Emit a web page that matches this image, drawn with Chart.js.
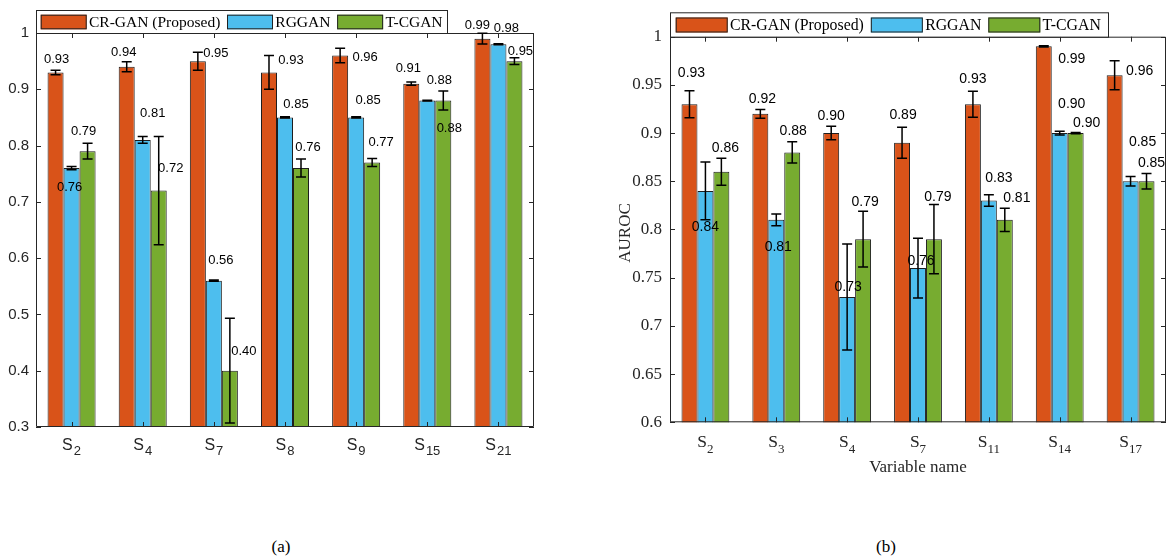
<!DOCTYPE html>
<html>
<head>
<meta charset="utf-8">
<script src="https://cdn.jsdelivr.net/npm/chart.js@4.4.0/dist/chart.umd.min.js"></script>
<style>
  html, body { margin: 0; padding: 0; background: #fff; }
  #wrap { position: relative; width: 1167px; height: 559px; overflow: hidden; }
  canvas { position: absolute; top: 0; }
  #ca { left: 0; }
  #cb { left: 580px; }
  .cap { position: absolute; font-family: "Liberation Serif", serif; font-size: 17px; color: #000;
         transform: translate(-50%, -50%); }
</style>
</head>
<body>
<div id="wrap">
  <canvas id="ca" width="560" height="480"></canvas>
  <canvas id="cb" width="587" height="480"></canvas>
  <div class="cap" style="left:281px; top:547px;">(a)</div>
  <div class="cap" style="left:886px; top:547px;">(b)</div>
</div>
<script>
// ---- data ----
const seriesNames = ['CR-GAN (Proposed)', 'RGGAN', 'T-CGAN'];
const seriesColors = ['#D95319', '#4DBEEE', '#77AC30'];

// panel (a)
const categoriesA = ['S_2', 'S_4', 'S_7', 'S_8', 'S_9', 'S_15', 'S_21'];
const crganA  = [0.93, 0.94, 0.95, 0.93, 0.96, 0.91, 0.99];
const rgganA  = [0.76, 0.81, 0.56, 0.85, 0.85, 0.88, 0.98];
const tcganA  = [0.79, 0.72, 0.40, 0.76, 0.77, 0.88, 0.95];
const crganErrA = [0.004, 0.009, 0.016, 0.030, 0.013, 0.003, 0.0095];
const rgganErrA = [0.003, 0.006, 0.001, 0.001, 0.001, 0.0006, 0.001];
const tcganErrA = [0.014, 0.096, 0.093, 0.016, 0.007, 0.017, 0.006];
const yTicksA = { min: 0.3, max: 1, step: 0.1 };

// panel (b)
const categoriesB = ['S_2', 'S_3', 'S_4', 'S_7', 'S_11', 'S_14', 'S_17'];
const crganB  = [0.93, 0.92, 0.90, 0.89, 0.93, 0.99, 0.96];
const rgganB  = [0.84, 0.81, 0.73, 0.76, 0.83, 0.90, 0.85];
const tcganB  = [0.86, 0.88, 0.79, 0.79, 0.81, 0.90, 0.85];
const crganErrB = [0.014, 0.0045, 0.007, 0.016, 0.0135, 0.0006, 0.015];
const rgganErrB = [0.030, 0.006, 0.055, 0.031, 0.006, 0.002, 0.005];
const tcganErrB = [0.014, 0.011, 0.029, 0.036, 0.012, 0.0006, 0.008];
const yTicksB = { min: 0.6, max: 1, step: 0.05 };

// ---- label placement (pixel nudges from each bar's top centre) ----
const nudgeA = [
  [[1,-13],[-3,-14],[18,-8],[22,-12],[25,2],[-3,-15],[-5,-13]],
  [[-2,19],[10,-27],[7,-20],[11,-13],[12,-17],[12,-20],[8,-16]],
  [[-4,-19.5],[12,-22],[14,-19],[7,-21],[9,-20],[6,28],[6,-10]]
];
const nudgeB = [
  [[2,-31],[2,-14.5],[0,-17],[1,-28],[0,-25],[28,13],[25,-4]],
  [[0,36],[2,27],[1,-10],[3,-7],[10,-22],[12,-29],[12,-39]],
  [[4,-24],[1,-21],[2,-37],[4,-42],[12,-22],[11,-10],[5,-18]]
];

const AXIS = '#262626';

function decorPlugin(cfg) {
  return {
    id: 'decor',
    afterDatasetsDraw(chart) {
      const ctx = chart.ctx;
      const a = chart.chartArea;
      const xs = chart.scales.x, ys = chart.scales.y;
      ctx.save();

      // axes box with inward ticks
      ctx.strokeStyle = AXIS;
      ctx.lineWidth = 1;
      ctx.beginPath();
      ctx.rect(a.left + 0.5, a.top + 0.5, a.right - a.left - 1, a.bottom - a.top - 1);
      ys.ticks.forEach(t => {
        const y = Math.round(ys.getPixelForValue(t.value)) + 0.5;
        ctx.moveTo(a.left, y); ctx.lineTo(a.left + 5, y);
        ctx.moveTo(a.right, y); ctx.lineTo(a.right - 5, y);
      });
      chart.data.labels.forEach((_, i) => {
        const x = Math.round(xs.getPixelForTick(i)) + 0.5;
        ctx.moveTo(x, a.bottom); ctx.lineTo(x, a.bottom - 5);
        ctx.moveTo(x, a.top); ctx.lineTo(x, a.top + 5);
      });
      ctx.stroke();

      // error bars
      ctx.strokeStyle = '#000';
      ctx.lineWidth = 1.5;
      chart.data.datasets.forEach((ds, di) => {
        const meta = chart.getDatasetMeta(di);
        ds.data.forEach((v, j) => {
          const el = meta.data[j];
          const e = cfg.errors[di][j];
          const yt = ys.getPixelForValue(v + e);
          const yb = ys.getPixelForValue(v - e);
          const x = el.x;
          ctx.beginPath();
          ctx.moveTo(x, yt); ctx.lineTo(x, yb);
          ctx.moveTo(x - 5, yt); ctx.lineTo(x + 5, yt);
          ctx.moveTo(x - 5, yb); ctx.lineTo(x + 5, yb);
          ctx.stroke();
        });
      });

      // value labels
      ctx.fillStyle = '#000';
      ctx.font = cfg.valueFont;
      ctx.textAlign = 'center';
      ctx.textBaseline = 'middle';
      chart.data.datasets.forEach((ds, di) => {
        const meta = chart.getDatasetMeta(di);
        ds.data.forEach((v, j) => {
          const el = meta.data[j];
          const [dx, dy] = cfg.nudge[di][j];
          ctx.fillText(v.toFixed(2), el.x + dx, ys.getPixelForValue(v) + dy);
        });
      });

      // category labels with subscripts
      ctx.fillStyle = cfg.tickColor;
      ctx.textAlign = 'left';
      ctx.textBaseline = 'alphabetic';
      chart.data.labels.forEach((lab, i) => {
        const [m, s] = lab.split('_');
        ctx.font = cfg.catFont; const wm = ctx.measureText(m).width;
        ctx.font = cfg.subFont; const wsub = ctx.measureText(s).width;
        const x0 = xs.getPixelForTick(i) - (wm + cfg.subGap + wsub) / 2;
        ctx.font = cfg.catFont; ctx.fillText(m, x0, cfg.catBase);
        ctx.font = cfg.subFont; ctx.fillText(s, x0 + wm + cfg.subGap, cfg.catBase + cfg.subDrop);
      });

      // axis titles
      if (cfg.xTitle) {
        ctx.fillStyle = AXIS;
        ctx.font = cfg.titleFont;
        ctx.textAlign = 'center';
        ctx.fillText(cfg.xTitle.text, cfg.xTitle.x, cfg.xTitle.y);
      }
      if (cfg.yTitle) {
        ctx.save();
        ctx.fillStyle = AXIS;
        ctx.font = cfg.titleFont;
        ctx.textAlign = 'center';
        ctx.textBaseline = 'alphabetic';
        ctx.translate(cfg.yTitle.x, cfg.yTitle.y);
        ctx.rotate(-Math.PI / 2);
        ctx.fillText(cfg.yTitle.text, 0, 0);
        ctx.restore();
      }

      // legend
      const L = cfg.legend;
      ctx.fillStyle = '#fff';
      ctx.fillRect(L.x, L.y, L.w, L.h);
      ctx.strokeStyle = AXIS;
      ctx.lineWidth = 1;
      ctx.strokeRect(L.x + 0.5, L.y + 0.5, L.w, L.h);
      ctx.font = L.font;
      ctx.textAlign = 'left';
      ctx.textBaseline = 'middle';
      let x = L.x + L.pad;
      const cy = L.y + L.h / 2 + 0.5;
      chart.data.datasets.forEach(ds => {
        ctx.fillStyle = ds.backgroundColor;
        ctx.fillRect(x, cy - L.swH / 2, L.swW, L.swH);
        ctx.strokeStyle = '#222';
        ctx.strokeRect(x + 0.5, cy - L.swH / 2 + 0.5, L.swW - 1, L.swH - 1);
        x += L.swW + L.gapA;
        ctx.fillStyle = '#000';
        ctx.fillText(ds.label, x, cy + 1);
        x += ctx.measureText(ds.label).width + L.gapB;
      });

      ctx.restore();
    }
  };
}

function makeChart(id, cats, series, yt, opts, cfg) {
  const datasets = series.map((d, i) => ({
    label: seriesNames[i],
    data: d,
    backgroundColor: seriesColors[i],
    borderColor: '#1e1e1e',
    borderWidth: 1,
    borderSkipped: false,
    categoryPercentage: 0.675,
    barPercentage: 1
  }));
  return new Chart(document.getElementById(id), {
    type: 'bar',
    data: { labels: cats, datasets },
    options: {
      responsive: false,
      animation: false,
      devicePixelRatio: 1,
      layout: { padding: opts.padding },
      plugins: { legend: { display: false }, tooltip: { enabled: false } },
      scales: {
        x: {
          ticks: { display: false },
          grid: { display: false, drawTicks: false },
          border: { display: false },
          afterFit(s) { s.height = opts.xHeight; }
        },
        y: {
          min: yt.min, max: yt.max,
          ticks: {
            stepSize: yt.step,
            padding: opts.tickPad,
            color: AXIS,
            font: opts.yFont,
            callback: v => String(Math.round(v * 100) / 100)
          },
          grid: { display: false, drawTicks: false },
          border: { display: false },
          afterFit(s) { s.width = opts.yWidth; }
        }
      }
    },
    plugins: [decorPlugin(cfg)]
  });
}

makeChart('ca', categoriesA, [crganA, rgganA, tcganA], yTicksA,
  { padding: { top: 33, right: 26, left: 0, bottom: 0 }, xHeight: 53, yWidth: 36, tickPad: 7,
    yFont: { family: 'Liberation Sans', size: 15 } },
  {
    errors: [crganErrA, rgganErrA, tcganErrA],
    nudge: nudgeA,
    valueFont: '13px "Liberation Sans"',
    tickColor: AXIS,
    catFont: '16px "Liberation Sans"',
    subFont: '13px "Liberation Sans"',
    subGap: 1, catBase: 450, subDrop: 5,
    legend: { x: 36, y: 10, w: 411, h: 23, pad: 4.7, swW: 46, swH: 14.6, gapA: 2.3, gapB: 6.7,
              font: '15.5px "Liberation Serif"' }
  });

makeChart('cb', categoriesB, [crganB, rgganB, tcganB], yTicksB,
  { padding: { top: 36.7, right: 1, left: 0, bottom: 0 }, xHeight: 57.7, yWidth: 90, tickPad: 8,
    yFont: { family: 'Liberation Serif', size: 17 } },
  {
    errors: [crganErrB, rgganErrB, tcganErrB],
    nudge: nudgeB,
    valueFont: '14px "Liberation Sans"',
    tickColor: AXIS,
    catFont: '17.5px "Liberation Serif"',
    subFont: '13px "Liberation Serif"',
    subGap: 0, catBase: 446.7, subDrop: 6.6,
    titleFont: '17px "Liberation Serif"',
    xTitle: { text: 'Variable name', x: 338, y: 472 },
    yTitle: { text: 'AUROC', x: 50, y: 233 },
    legend: { x: 90, y: 12.3, w: 438, h: 24.4, pad: 5.7, swW: 52, swH: 15, gapA: 2.3, gapB: 7,
              font: '15.8px "Liberation Serif"' }
  });
</script>
</body>
</html>
